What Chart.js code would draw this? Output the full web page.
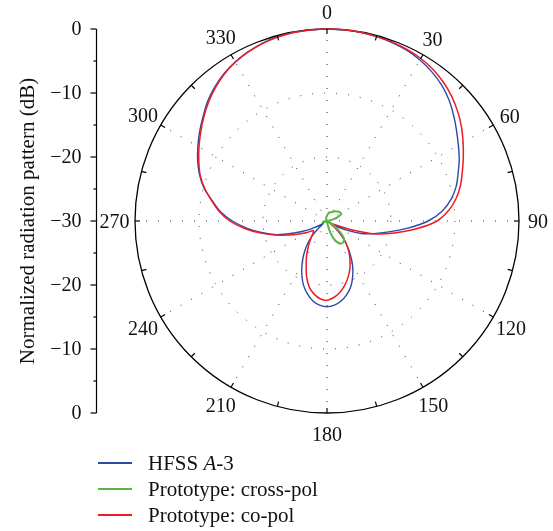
<!DOCTYPE html>
<html>
<head>
<meta charset="utf-8">
<script src="https://cdn.jsdelivr.net/npm/chart.js@4.4.1/dist/chart.umd.min.js"></script>
<style>
  body { margin: 0; background: #fff; }
  #wrap { position: relative; width: 553px; height: 531px; }
  #legend { position: absolute; left: 98px; top: 450px; font: 21px 'Liberation Serif', serif; color: #111; }
  #legend .item { display: flex; align-items: center; height: 26px; white-space: nowrap; }
  #legend .swatch { width: 34px; height: 1.5px; margin-right: 16px; }
</style>
</head>
<body>
<div id="wrap">
  <canvas id="pattern" width="553" height="531"></canvas>
  <div id="legend"></div>
</div>
<script>
// azimuth angle of each sample (degrees, clockwise from top)
const angles = [
  0, 5, 10, 15, 20, 25, 30, 35, 40, 45, 50, 55,
  60, 65, 70, 75, 80, 85, 90, 95, 100, 105, 110, 115,
  120, 125, 130, 135, 140, 145, 150, 155, 160, 165, 170, 175,
  180, 185, 190, 195, 200, 205, 210, 215, 220, 225, 230, 235,
  240, 245, 250, 255, 260, 265, 270, 275, 280, 285, 290, 295,
  300, 305, 310, 315, 320, 325, 330, 335, 340, 345, 350, 355
];

// normalized pattern in dB (floor of the plot is -30 dB)
const hfssA3 = [
  0, -0.02, -0.08, -0.18, -0.32, -0.55, -0.95, -1.5, -2.2, -3.1, -4.2, -5.3,
  -6.3, -7.2, -8.2, -9.1, -10.3, -11.9, -14.2, -17.3, -20.2, -22.4, -24.3, -26.6,
  -28.6, -29.4, -28.4, -26.8, -25.3, -23.7, -22.0, -20.5, -19.1, -18.1, -17.3, -16.8,
  -16.6, -16.8, -17.3, -18.2, -19.3, -20.7, -22.2, -23.7, -25.2, -26.8, -28.2, -29.3,
  -28.6, -26.6, -24.5, -21.8, -19.6, -17.4, -15.2, -13.3, -11.8, -10.1, -8.8, -7.7,
  -6.7, -5.7, -4.7, -3.6, -2.7, -1.9, -1.3, -0.85, -0.45, -0.2, -0.08, -0.02
];

const crossPol = [
  -29.2, -29.0, -28.8, -28.6, -28.6, -28.5, -28.4, -28.2, -28.0, -27.9, -27.7, -27.6,
  -27.5, -27.6, -28.2, -29.0, -29.7, -30, -30, -30, -30, -30, -30, -30,
  -29.6, -28.6, -27.4, -26.3, -25.9, -25.8, -25.9, -26.4, -27.2, -28.4, -29.5, -30,
  -30, -30, -30, -30, -30, -30, -30, -30, -30, -30, -30, -30,
  -30, -29.7, -29.4, -29.3, -29.4, -29.6, -29.8, -30, -30, -30, -30, -30,
  -30, -30, -30, -30, -30, -30, -30, -29.8, -29.6, -29.5, -29.4, -29.3
];

const coPol = [
  0, -0.02, -0.06, -0.14, -0.26, -0.42, -0.68, -1.1, -1.7, -2.45, -3.35, -4.35,
  -5.45, -6.5, -7.5, -8.4, -9.5, -10.9, -12.8, -16.0, -19.3, -22.2, -26.0, -28.6,
  -29.6, -29.4, -28.2, -26.6, -25.3, -24.0, -22.8, -21.6, -20.5, -19.5, -18.6, -18.0,
  -17.6, -17.8, -18.4, -19.3, -20.7, -22.3, -23.6, -24.8, -25.8, -26.6, -27.2, -27.4,
  -26.4, -25.2, -23.6, -21.5, -19.3, -17.0, -14.8, -13.1, -11.7, -10.2, -8.9, -7.9,
  -6.9, -5.9, -4.85, -3.8, -2.85, -2.0, -1.35, -0.85, -0.5, -0.25, -0.1, -0.03
];

// left-hand dB scale, mirrored about the centre
const dbTicks = [0, -5, -10, -15, -20, -25, -30];

const FONT = "20px 'Liberation Serif', serif";
const TITLE_FONT = "21px 'Liberation Serif', serif";
const AXIS_X = 96.5;

const polarFrame = {
  id: 'polarFrame',
  afterDraw(chart) {
    const s = chart.scales.r;
    const ctx = chart.ctx;
    const R = s.drawingArea;
    ctx.save();
    ctx.strokeStyle = '#000';
    ctx.lineWidth = 1.2;

    // small inward ticks on the outer circle every 15 degrees
    chart.data.labels.forEach((deg, i) => {
      if (deg % 15 !== 0) return;
      const a = s.getPointPosition(i, R);
      const b = s.getPointPosition(i, R - 5);
      ctx.beginPath();
      ctx.moveTo(a.x, a.y);
      ctx.lineTo(b.x, b.y);
      ctx.stroke();
    });

    // angle labels, pushed out a little more for wider text
    ctx.font = FONT;
    ctx.fillStyle = '#111';
    ctx.textAlign = 'center';
    ctx.textBaseline = 'middle';
    chart.data.labels.forEach((deg, i) => {
      if (deg % 30 !== 0) return;
      const text = String(deg);
      const w = ctx.measureText(text).width;
      const p = s.getPointPosition(i, R + 16 + w * 0.15);
      ctx.fillText(text, p.x, p.y + 2);
    });

    // dB axis on the left
    ctx.beginPath();
    ctx.moveTo(AXIS_X, s.yCenter - R);
    ctx.lineTo(AXIS_X, s.yCenter + R);
    ctx.stroke();
    ctx.textAlign = 'right';
    dbTicks.forEach(v => {
      const d = s.getDistanceFromCenterForValue(v);
      const major = v % 10 === 0;
      const ys = d > 0 ? [s.yCenter - d, s.yCenter + d] : [s.yCenter];
      ys.forEach(y => {
        ctx.beginPath();
        ctx.moveTo(AXIS_X, y);
        ctx.lineTo(AXIS_X - (major ? 6 : 3), y);
        ctx.stroke();
        if (major) ctx.fillText(String(v).replace('-', '\u2212'), AXIS_X - 15, y + 1);
      });
    });

    ctx.font = TITLE_FONT;
    ctx.translate(28, s.yCenter);
    ctx.rotate(-Math.PI / 2);
    ctx.textAlign = 'center';
    ctx.fillText('Normalized radiation pattern (dB)', 0, 0);
    ctx.restore();
  }
};

const chart = new Chart(document.getElementById('pattern'), {
  type: 'radar',
  data: {
    labels: angles,
    datasets: [
      { label: 'HFSS A-3', data: hfssA3, borderColor: '#2b4aa3', borderWidth: 1.4, order: 2 },
      { label: 'Prototype: cross-pol', data: crossPol, borderColor: '#5ab546', borderWidth: 2, order: 0 },
      { label: 'Prototype: co-pol', data: coPol, borderColor: '#ed1c24', borderWidth: 1.5, order: 1 }
    ]
  },
  options: {
    responsive: false,
    animation: false,
    layout: { padding: { left: 135, top: 29, right: 34, bottom: 118 } },
    elements: {
      line: { fill: false, tension: 0.3 },
      point: { radius: 0, hoverRadius: 0 }
    },
    plugins: { legend: { display: false }, tooltip: { enabled: false } },
    scales: {
      r: {
        min: -30,
        max: 0,
        ticks: { display: false, stepSize: 10 },
        pointLabels: { display: false },
        grid: {
          circular: true,
          color: ctx => (ctx.tick.value === 0 ? '#000' : '#333'),
          lineWidth: ctx => (ctx.tick.value === 0 ? 1.3 : 1)
        },
        border: { dash: ctx => (ctx.tick.value === 0 ? [] : [1, 11]) },
        angleLines: {
          color: '#333',
          lineWidth: ctx => (ctx.index % 6 === 0 ? 1 : 0),
          borderDash: [1, 11]
        }
      }
    }
  },
  plugins: [polarFrame]
});

// legend rows built from the datasets
const legendEl = document.getElementById('legend');
chart.data.datasets.forEach(ds => {
  const row = document.createElement('div');
  row.className = 'item';
  const sw = document.createElement('span');
  sw.className = 'swatch';
  sw.style.background = ds.borderColor;
  const txt = document.createElement('span');
  txt.innerHTML = ds.label.replace(/ A-/, ' <i>A</i>-');
  row.appendChild(sw);
  row.appendChild(txt);
  legendEl.appendChild(row);
});
</script>
</body>
</html>
